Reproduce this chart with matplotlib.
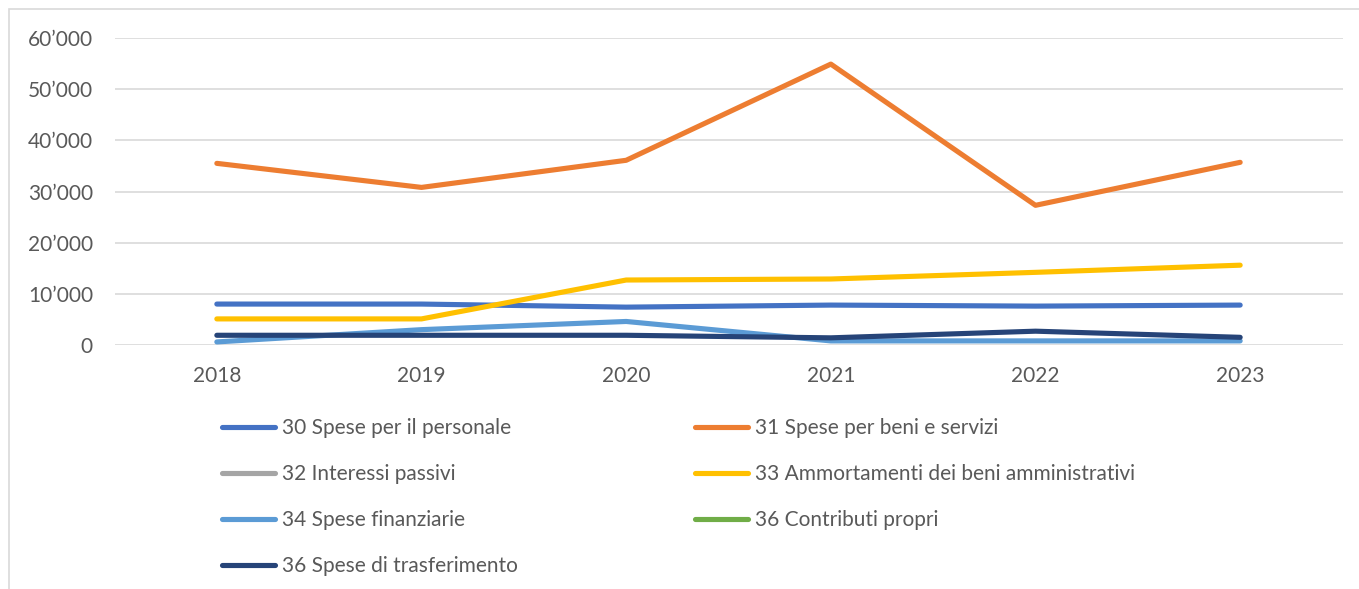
import numpy as np
import matplotlib
matplotlib.use("Agg")
import matplotlib.pyplot as plt
from matplotlib.patches import Rectangle
from matplotlib.ticker import FuncFormatter

plt.rcParams["font.family"] = ["Lato", "DejaVu Sans"]

anni = ["2018", "2019", "2020", "2021", "2022", "2023"]

personale = [8000, 8000, 7400, 7800, 7600, 7800]
beni_servizi = [35500, 30800, 36100, 54900, 27300, 35700]
interessi = [np.nan] * 6
ammortamenti = [5100, 5100, 12700, 12900, 14200, 15600]
finanziarie = [600, 3000, 4600, 800, 800, 800]
contributi = [np.nan] * 6
trasferimento = [1900, 1900, 1900, 1400, 2700, 1500]

serie = [
    ("30 Spese per il personale", personale, "#4472C4"),
    ("31 Spese per beni e servizi", beni_servizi, "#ED7D31"),
    ("32 Interessi passivi", interessi, "#A5A5A5"),
    ("33 Ammortamenti dei beni amministrativi", ammortamenti, "#FFC000"),
    ("34 Spese finanziarie", finanziarie, "#5B9BD5"),
    ("36 Contributi propri", contributi, "#70AD47"),
    ("36 Spese di trasferimento", trasferimento, "#264478"),
]

W, H = 1359, 589
fig = plt.figure(figsize=(W / 100, H / 100), dpi=100)
ax = fig.add_axes([114.5 / W, (H - 345) / H, (1342.5 - 114.5) / W, (345 - 38) / H])

x = np.arange(len(anni))
handles = {}
for nome, vals, col in serie:
    ln, = ax.plot(x, vals, color=col, lw=3.7, solid_capstyle="round",
                  solid_joinstyle="round", label=nome, zorder=3)
    handles[nome] = ln

ax.set_xlim(-0.5, len(anni) - 0.5)
ax.set_ylim(0, 60000)
ax.set_yticks(np.arange(0, 60001, 10000))
ax.yaxis.set_major_formatter(FuncFormatter(
    lambda v, p: f"{int(v):,}".replace(",", "\u2019")))
ax.set_xticks(x)
ax.set_xticklabels(anni)
ax.grid(axis="y", color="#D9D9D9", lw=1.2, zorder=0)
for s in ax.spines.values():
    s.set_visible(False)
ax.tick_params(length=0, labelsize=15, colors="#595959")
ax.tick_params(axis="y", pad=15.5)
ax.tick_params(axis="x", pad=15)

# legenda in due colonne (ordine per righe come nell'originale)
nomi = [s[0] for s in serie]
col1 = [nomi[0], nomi[2], nomi[4], nomi[6]]
col2 = [nomi[1], nomi[3], nomi[5]]
for cols, xpos in ((col1, 214), (col2, 687)):
    leg = fig.legend([handles[n] for n in cols], cols, loc="upper left",
                     bbox_to_anchor=(xpos / W, 1 - 410 / H), frameon=False,
                     fontsize=15, handlelength=2.55, handletextpad=0.3,
                     labelspacing=1.25, borderaxespad=0)
    for t in leg.get_texts():
        t.set_color("#595959")

# cornice del grafico
fig.patches.append(Rectangle((9 / W, -0.01), 1.1, 1 - 9 / H + 0.01,
                             transform=fig.transFigure, fill=False,
                             ec="#D9D9D9", lw=1.2))

fig.savefig("out.png", dpi=100)
